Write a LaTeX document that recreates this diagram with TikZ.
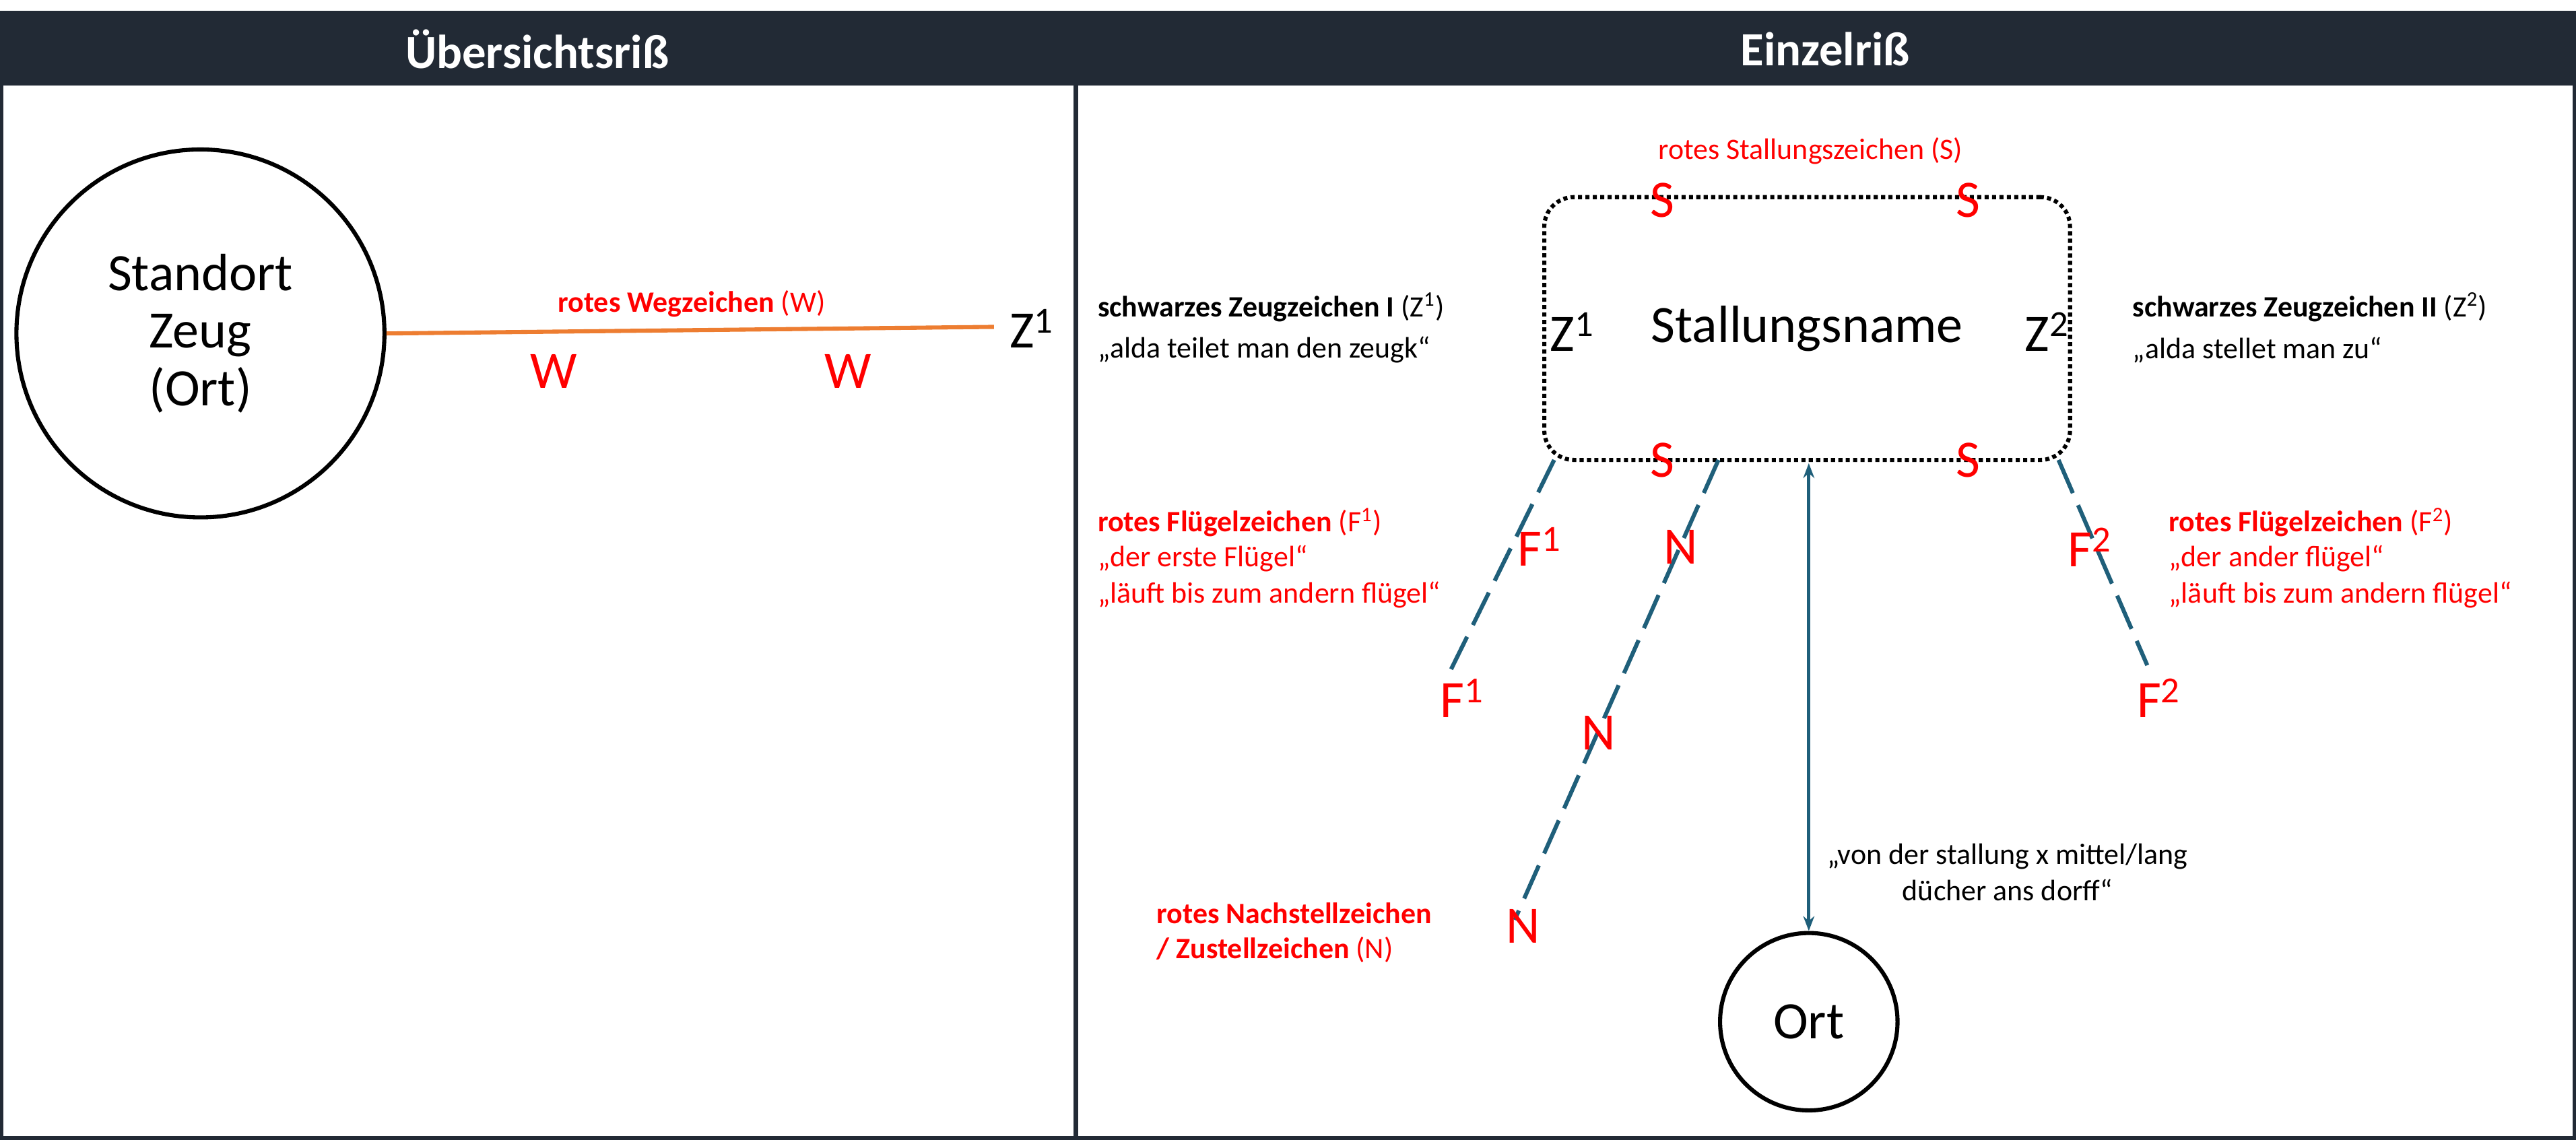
\documentclass[tikz,border=0pt]{standalone}
\usepackage{fontspec}
\setmainfont{Carlito}
\usetikzlibrary{arrows.meta}
\definecolor{hdr}{HTML}{222A35}
\definecolor{tealc}{HTML}{1F5F7A}
\definecolor{orng}{HTML}{ED7D31}
\begin{document}
\begin{tikzpicture}[x=1pt,y=-1pt,
  big/.style={font=\fontsize{32}{35}\selectfont},
  bigred/.style={big,text=red},
  small/.style={font=\fontsize{18}{22}\selectfont,anchor=west,inner sep=0},
  smallred/.style={small,text=red},
  dsh/.style={tealc,line width=2.5pt,dash pattern=on 22pt off 8pt}]
\useasboundingbox (0,0) rectangle (1568,694);
\fill[white] (0,0) rectangle (1568,694);
\fill[hdr] (0,8) rectangle (1568,52);
\draw[hdr,line width=2.5pt] (1,8) rectangle (1567,693);
\draw[hdr,line width=3pt] (655,8) -- (655,693);
\node[text=white,font=\fontsize{29}{30}\selectfont\bfseries] (h1) at (327,30) {Übersichtsriß};
\node[text=white,font=\fontsize{29}{30}\selectfont\bfseries] (h2) at (1111,30) {Einzelriß};
% left panel
\node[draw,circle,line width=2.5pt,minimum size=224pt,big,align=center] (c1) at (122,203) {Standort\\Zeug\\(Ort)};
\coordinate (we) at (605,199);
\draw[orng,line width=2.5pt] (c1.east) -- (we);
\node[text=red,font=\fontsize{18}{20}\selectfont] (wl) at (421,185) {\textbf{rotes Wegzeichen} (W)};
\node[bigred] (w1) at (337,226) {W};
\node[bigred] (w2) at (516,226) {W};
\node[big] (z0) at (628,200) {Z\textsuperscript{1}};
% right panel
\node[draw,dotted,line width=2.5pt,rounded corners=18pt,minimum width=320pt,minimum height=160pt,big] (st) at (1100,200) {Stallungsname};
\node[text=red,font=\fontsize{18}{20}\selectfont] (sl) at (1102,92) {rotes Stallungszeichen (S)};
\node[bigred] (s1) at (1012,122) {S};
\node[bigred] (s2) at (1198,122) {S};
\node[bigred] (s3) at (1012,280) {S};
\node[bigred] (s4) at (1198,280) {S};
\node[big] (z1) at (957,202) {Z\textsuperscript{1}};
\node[big] (z2) at (1246,202) {Z\textsuperscript{2}};
\node[small] (t1) at (668,187) {\textbf{schwarzes Zeugzeichen I} (Z\textsuperscript{1})};
\node[small] (t2) at (668,213) {„alda teilet man den zeugk“};
\node[small] (t3) at (1298,187) {\textbf{schwarzes Zeugzeichen II} (Z\textsuperscript{2})};
\node[small] (t4) at (1298,213) {„alda stellet man zu“};
% dashed lines
\coordinate (f1a) at (946,280); \coordinate (f1b) at (882,410);
\coordinate (na) at (1046,280); \coordinate (nb) at (922,560);
\coordinate (f2a) at (1253,280); \coordinate (f2b) at (1307,405);
\draw[dsh] (f1a) -- (f1b);
\draw[dsh] (na) -- (nb);
\draw[dsh] (f2a) -- (f2b);
\node[bigred] (fa) at (937,333) {F\textsuperscript{1}};
\node[bigred] (fb) at (890,425) {F\textsuperscript{1}};
\node[bigred] (n1) at (1023,333) {N};
\node[bigred] (n2) at (973,446) {N};
\node[bigred] (n3) at (927,564) {N};
\node[bigred] (fc) at (1272,333) {F\textsuperscript{2}};
\node[bigred] (fd) at (1314,425) {F\textsuperscript{2}};
\node[smallred] (r1) at (668,318) {\textbf{rotes Flügelzeichen} (F\textsuperscript{1})};
\node[smallred] (r2) at (668,340) {„der erste Flügel“};
\node[smallred] (r3) at (668,362) {„läuft bis zum andern flügel“};
\node[smallred] (r4) at (1320,318) {\textbf{rotes Flügelzeichen} (F\textsuperscript{2})};
\node[smallred] (r5) at (1320,340) {„der ander flügel“};
\node[smallred] (r6) at (1320,362) {„läuft bis zum andern flügel“};
\node[smallred] (r7) at (704,556) {\textbf{rotes Nachstellzeichen}};
\node[smallred] (r8) at (704,578) {\textbf{/ Zustellzeichen} (N)};
% Ort
\node[draw,circle,line width=2.5pt,minimum size=108pt,big] (ort) at (1101,622) {Ort};
\coordinate (aa) at (1101,282);
\draw[tealc,line width=2pt,{Stealth[length=9pt]}-{Stealth[length=9pt]}] (aa) -- (ort.north);
\node[font=\fontsize{18}{22}\selectfont,align=center] (vt) at (1222,531) {„von der stallung x mittel/lang\\dücher ans dorff“};
\end{tikzpicture}
\end{document}
